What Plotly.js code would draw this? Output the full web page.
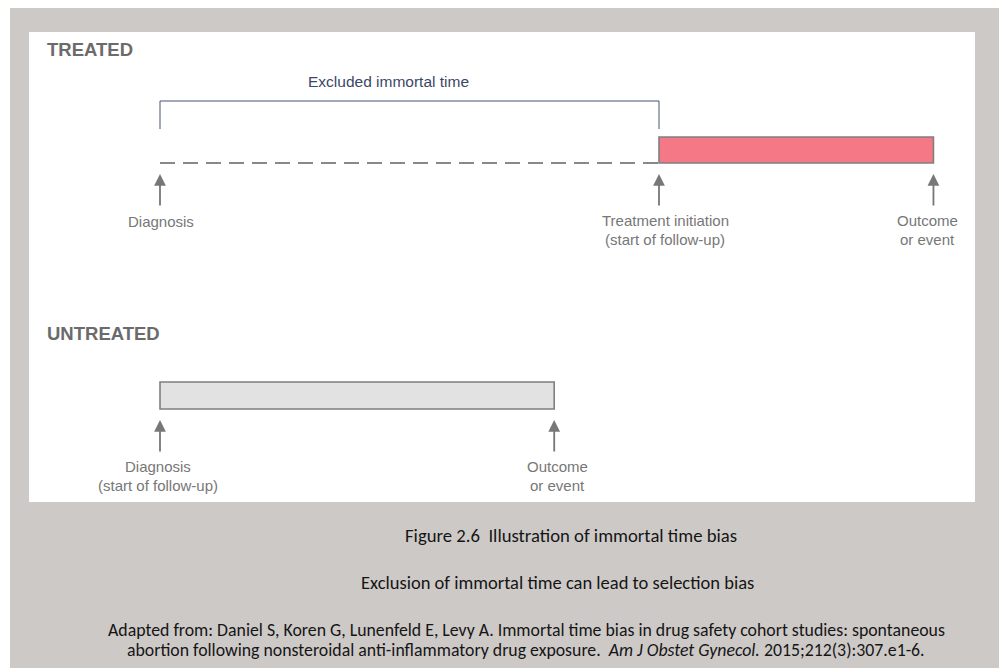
<!DOCTYPE html>
<html>
<head>
<meta charset="utf-8">
<script src="https://cdn.plot.ly/plotly-3.0.1.min.js"></script>
<style>
  html, body { margin: 0; padding: 0; background: #ffffff; }
  #chart { width: 1004px; height: 672px; }
</style>
</head>
<body>
<div id="chart"></div>
<script>
// ---------------- DATA ----------------
const groups = ["TREATED", "UNTREATED"];
// time points (arbitrary units) along each timeline
const treatedEventTimes = [0, 10, 15.5];          // diagnosis, treatment initiation, outcome
const treatedEventLabels = ["Diagnosis", "Treatment initiation<br>(start of follow-up)", "Outcome<br>or event"];
const untreatedEventTimes = [0, 7.9];             // diagnosis, outcome
const untreatedEventLabels = ["Diagnosis<br>(start of follow-up)", "Outcome<br>or event"];
const immortalLabel = "Excluded immortal time";
const figureTitle = "Figure 2.6  Illustration of immortal time bias";
const figureSubtitle = "Exclusion of immortal time can lead to selection bias";
const citationLine1 = "Adapted from: Daniel S, Koren G, Lunenfeld E, Levy A. Immortal time bias in drug safety cohort studies: spontaneous";
const citationLine2 = "abortion following nonsteroidal anti-inflammatory drug exposure.  <i>Am J Obstet Gynecol.</i> 2015;212(3):307.e1-6.";

// ---------------- LAYOUT CONSTANTS ----------------
const W = 1004, H = 672;
const ROW_Y = [150, 395.5];      // vertical centre of each timeline bar (px-like y units)
const BAR_H = [26, 27];
const labelColor = "#777777";
const arrowColor = "#777777";
const labelFont = {family: "Liberation Sans, Arial, sans-serif", size: 15, color: labelColor};
const capFont = {family: "Carlito, Lato, Open Sans, sans-serif", color: "#151515"};

function px(xp) { return xp / W; }
function py(yp) { return 1 - yp / H; }

// ---------------- TRACES ----------------
const traces = [];
// treated follow-up bar
traces.push({
  type: "bar", orientation: "h",
  y: [ROW_Y[0]], base: [treatedEventTimes[1]], x: [treatedEventTimes[2] - treatedEventTimes[1]],
  width: BAR_H[0],
  marker: {color: "#f47886", line: {color: "#7f7f7f", width: 1.6}},
  hoverinfo: "skip", showlegend: false
});
// untreated follow-up bar
traces.push({
  type: "bar", orientation: "h",
  y: [ROW_Y[1]], base: [untreatedEventTimes[0]], x: [untreatedEventTimes[1] - untreatedEventTimes[0]],
  width: BAR_H[1],
  marker: {color: "#e2e2e2", line: {color: "#7f7f7f", width: 1.6}},
  hoverinfo: "skip", showlegend: false
});
// dashed immortal time line
const rowBottom0 = ROW_Y[0] + BAR_H[0] / 2;
traces.push({
  type: "scatter", mode: "lines",
  x: [treatedEventTimes[0], treatedEventTimes[1]], y: [rowBottom0, rowBottom0],
  line: {color: "#888888", width: 2, dash: "15px,8px"},
  hoverinfo: "skip", showlegend: false
});
// bracket
const bracketTop = 101, bracketBottom = 129;
traces.push({
  type: "scatter", mode: "lines",
  x: [treatedEventTimes[0], treatedEventTimes[0], treatedEventTimes[1], treatedEventTimes[1]],
  y: [bracketBottom, bracketTop, bracketTop, bracketBottom],
  line: {color: "#47546f", width: 1},
  hoverinfo: "skip", showlegend: false
});

// ---------------- ANNOTATIONS ----------------
const annotations = [];
function addArrow(t, rowIdx) {
  const bottom = ROW_Y[rowIdx] + BAR_H[rowIdx] / 2;
  annotations.push({
    x: t, y: bottom + 11, xref: "x", yref: "y",
    text: "", showarrow: true, ax: 0, ay: 33,
    arrowhead: 2, arrowsize: 1.3, arrowwidth: 1.8, arrowcolor: arrowColor, standoff: 0
  });
}
function addLabel(t, rowIdx, text, shift) {
  const bottom = ROW_Y[rowIdx] + BAR_H[rowIdx] / 2;
  const lines = text.split("<br>");
  lines.forEach((line, k) => {
    annotations.push({
      x: t, y: bottom + (lines.length > 1 ? 57.5 : 58) + k * 19, xref: "x", yref: "y",
      text: line, showarrow: false, xanchor: "center", yanchor: "middle",
      xshift: shift, font: labelFont
    });
  });
}
const treatedShifts = [1, 6, -6];
treatedEventTimes.forEach((t, i) => { addArrow(t, 0); addLabel(t, 0, treatedEventLabels[i], treatedShifts[i]); });
const untreatedShifts = [-2, 3];
untreatedEventTimes.forEach((t, i) => { addArrow(t, 1); addLabel(t, 1, untreatedEventLabels[i], untreatedShifts[i]); });

// immortal time label
annotations.push({
  x: (treatedEventTimes[0] + treatedEventTimes[1]) / 2, y: 81, xref: "x", yref: "y",
  text: immortalLabel, showarrow: false, xanchor: "center", yanchor: "middle", xshift: -21,
  font: {family: "Liberation Sans, Arial, sans-serif", size: 15.5, color: "#3b4766"}
});
// group labels
const groupLabelY = [50, 333];
groups.forEach((g, i) => {
  annotations.push({
    x: px(45), y: py(groupLabelY[i]), xref: "paper", yref: "paper",
    text: "<b>" + g + "</b>", showarrow: false, xanchor: "left", yanchor: "middle",
    font: {family: "Liberation Sans, Arial, sans-serif", size: 18.5, color: "#6b6b6b"}
  });
});
// captions
annotations.push({x: px(571), y: py(535), xref: "paper", yref: "paper", text: figureTitle,
  showarrow: false, xanchor: "center", yanchor: "middle", font: Object.assign({size: 18.7}, capFont)});
annotations.push({x: px(557), y: py(582), xref: "paper", yref: "paper", text: figureSubtitle,
  showarrow: false, xanchor: "center", yanchor: "middle", font: Object.assign({size: 18.5}, capFont)});
annotations.push({x: px(526), y: py(630), xref: "paper", yref: "paper", text: citationLine1,
  showarrow: false, xanchor: "center", yanchor: "middle", font: Object.assign({size: 17.8}, capFont)});
annotations.push({x: px(526), y: py(650), xref: "paper", yref: "paper", text: citationLine2,
  showarrow: false, xanchor: "center", yanchor: "middle", font: Object.assign({size: 17.8}, capFont)});

// ---------------- SHAPES (backgrounds) ----------------
const shapes = [
  {type: "rect", xref: "paper", yref: "paper", x0: px(10), x1: px(999), y0: py(668), y1: py(8),
   fillcolor: "#cdc9c7", line: {width: 0}, layer: "below"},
  {type: "rect", xref: "paper", yref: "paper", x0: px(29), x1: px(975), y0: py(502), y1: py(32),
   fillcolor: "#ffffff", line: {width: 0}, layer: "below"}
];

// x scale: diagnosis at 160px, treatment initiation at 659px
const pxPerUnit = (659 - 160) / (treatedEventTimes[1] - treatedEventTimes[0]);
const layout = {
  width: W, height: H,
  margin: {l: 0, r: 0, t: 0, b: 0, pad: 0},
  paper_bgcolor: "#ffffff", plot_bgcolor: "rgba(0,0,0,0)",
  xaxis: {range: [-160 / pxPerUnit, (W - 160) / pxPerUnit], visible: false, fixedrange: true},
  yaxis: {range: [H, 0], visible: false, fixedrange: true},
  barmode: "overlay",
  showlegend: false,
  annotations: annotations,
  shapes: shapes
};
Plotly.newPlot("chart", traces, layout, {displayModeBar: false, staticPlot: true});
</script>
</body>
</html>
